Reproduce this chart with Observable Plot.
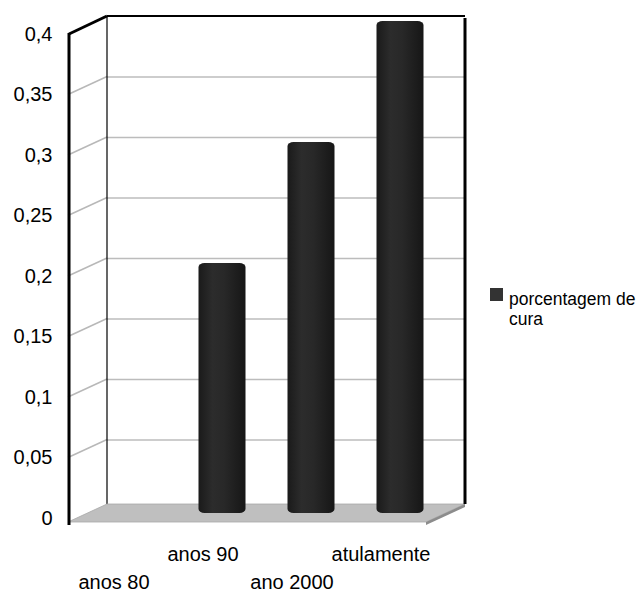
<!DOCTYPE html>
<html>
<head>
<meta charset="utf-8">
<script src="https://cdn.jsdelivr.net/npm/d3@7"></script>
<script src="https://cdn.jsdelivr.net/npm/@observablehq/plot@0.6"></script>
<style>
  body { margin: 0; background: #fff; }
  #wrap { position: relative; width: 644px; height: 592px; font-family: "Liberation Sans", Arial, sans-serif; }
  #legend { position: absolute; left: 490px; top: 289px; font-size: 17.5px; line-height: 20px; color: #000; }
  #legend .sw { position: absolute; left: 0; top: -1px; width: 13px; height: 13px; background: #333; }
  #legend .tx { position: absolute; left: 19px; top: 0; white-space: nowrap; }
</style>
</head>
<body>
<div id="wrap">
  <div id="chart"></div>
  <div id="legend"><div class="sw"></div><div class="tx"></div></div>
</div>
<script>
const categories = ["anos 80", "anos 90", "ano 2000", "atulamente"];
const cureRate = [0, 0.2, 0.3, 0.4];
const yTicks = [0, 0.05, 0.1, 0.15, 0.2, 0.25, 0.3, 0.35, 0.4];
const seriesLines = ["porcentagem de", "cura"];

const data = categories.map((c, i) => ({periodo: c, valor: cureRate[i]}));

const DX = 39, DY = -18;
const fmt = d => String(d).replace(".", ",");

function getCtx(args) {
  const sc = args.find(a => a && typeof a.y === "function");
  const dim = args.find(a => a && typeof a.marginLeft === "number");
  return {y: sc.y, x0: dim.marginLeft, x1: dim.width - dim.marginRight};
}

function defsMark() {
  const g = d3.create("svg:defs");
  const lg = g.append("linearGradient").attr("id", "cyl").attr("x1", 0).attr("x2", 1).attr("y1", 0).attr("y2", 0);
  [[0, "#1a1a1a"], [0.3, "#2c2c2c"], [0.55, "#282828"], [1, "#161616"]].forEach(([o, c]) =>
    lg.append("stop").attr("offset", o).attr("stop-color", c));
  return g.node();
}

function backDecor() {
  const {y, x0, x1} = getCtx(Array.from(arguments));
  const yTop = y(yTicks[yTicks.length - 1]), yBot = y(yTicks[0]);
  const g = d3.create("svg:g");
  yTicks.slice(1, -1).forEach(t => {
    g.append("line").attr("x1", x0).attr("y1", y(t)).attr("x2", x0 + DX).attr("y2", y(t) + DY)
      .attr("stroke", "#b8b8b8").attr("stroke-width", 1.5);
  });
  g.append("line").attr("x1", x0 + DX).attr("y1", yTop + DY).attr("x2", x0 + DX).attr("y2", yBot + DY + 4)
    .attr("stroke", "#000").attr("stroke-width", 1.2);
  const fy = yBot + 4;
  g.append("polygon")
    .attr("points", [[x0, fy], [x1, fy], [x1 + DX, fy + DY], [x0 + DX, fy + DY]].map(p => p.join(",")).join(" "))
    .attr("fill", "#bfbfbf").attr("stroke", "#a8a8a8").attr("stroke-width", 0.8);
  g.append("polygon")
    .attr("points", [[x1, fy], [x1 + DX, fy + DY], [x1 + DX, fy + DY + 3], [x1, fy + 3]].map(p => p.join(",")).join(" "))
    .attr("fill", "#8c8c8c");
  return g.node();
}

function frontDecor() {
  const {y, x0, x1} = getCtx(Array.from(arguments));
  const yTop = y(yTicks[yTicks.length - 1]), yBot = y(yTicks[0]);
  const g = d3.create("svg:g").attr("stroke", "#000").attr("fill", "none");
  g.append("line").attr("x1", x0 + DX).attr("y1", yTop + DY).attr("x2", x1 + DX).attr("y2", yTop + DY).attr("stroke-width", 2);
  g.append("line").attr("x1", x1 + DX).attr("y1", yTop + DY + 2).attr("x2", x1 + DX).attr("y2", yBot + DY + 4).attr("stroke-width", 3);
  g.append("line").attr("x1", x0 + 1).attr("y1", yTop).attr("x2", x0 + DX).attr("y2", yTop + DY).attr("stroke-width", 3);
  g.append("line").attr("x1", x0 + 1).attr("y1", yTop - 1).attr("x2", x0 + 1).attr("y2", yBot + 7).attr("stroke-width", 3);
  return g.node();
}

const chart = Plot.plot({
  width: 644,
  height: 592,
  marginLeft: 68,
  marginRight: 218,
  marginTop: 34,
  marginBottom: 74,
  style: {fontFamily: "Liberation Sans, Arial, sans-serif", fontSize: "20px", color: "#000", background: "#fff"},
  x: {domain: categories, padding: 0, axis: null},
  y: {domain: [0, 0.4], axis: null},
  marks: [
    defsMark,
    Plot.ruleY(yTicks.slice(1, -1), {dx: DX, dy: DY, stroke: "#bcbcbc", strokeWidth: 1.6}),
    backDecor,
    Plot.barY(data.filter(d => d.valor > 0), {
      x: "periodo", y: "valor", fill: "url(#cyl)",
      insetLeft: 21, insetRight: 21, insetTop: -4, insetBottom: -4,
      rx: 6, ry: 4, dx: DX / 2, dy: DY / 2
    }),
    frontDecor,
    Plot.axisY({ticks: yTicks, tickFormat: fmt, tickSize: 0, tickPadding: 16, fontSize: 20, label: null}),
    Plot.axisX({ticks: [categories[1], categories[3]], tickSize: 0, tickPadding: 36, lineAnchor: "middle", fontSize: 20, label: null}),
    Plot.axisX({ticks: [categories[0], categories[2]], tickSize: 0, tickPadding: 64, lineAnchor: "middle", fontSize: 20, label: null})
  ]
});
document.getElementById("chart").appendChild(chart);
document.querySelector("#legend .tx").innerHTML = seriesLines.join("<br>");
</script>
</body>
</html>
